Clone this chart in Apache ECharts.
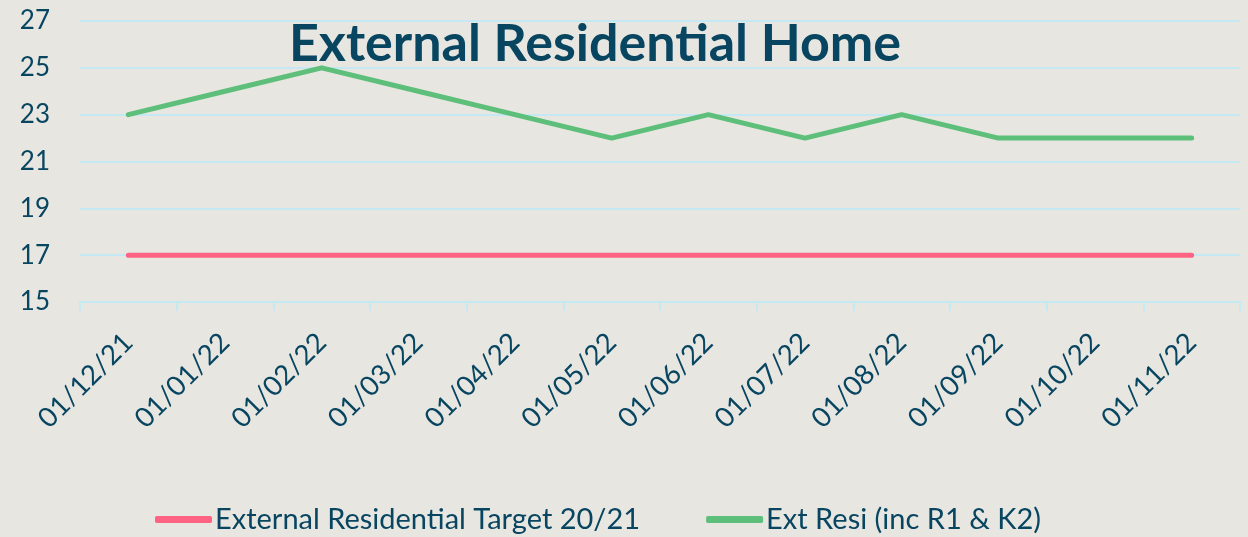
<!DOCTYPE html>
<html>
<head>
<meta charset="utf-8">
<script src="https://cdn.jsdelivr.net/npm/echarts@6/dist/echarts.min.js"></script>
<style>
  html, body { margin: 0; padding: 0; background: #E7E6E1; }
  #main { width: 1248px; height: 537px; }
</style>
</head>
<body>
<div id="main"></div>
<script>
var categories = ['01/12/21','01/01/22','01/02/22','01/03/22','01/04/22','01/05/22',
                  '01/06/22','01/07/22','01/08/22','01/09/22','01/10/22','01/11/22'];
var targetValues = [17,17,17,17,17,17,17,17,17,17,17,17];
var extResiValues = [23,24,25,24,23,22,23,22,23,22,22,22];
var yTicks = [15,17,19,21,23,25,27];

var textColor = '#084560';
var fontFam = 'Lato, "Open Sans", sans-serif';

var chart = echarts.init(document.getElementById('main'));
chart.setOption({
  backgroundColor: '#E7E6E1',
  animation: false,
  title: {
    text: 'External Residential Home',
    left: 590,
    top: 13,
    textAlign: 'center',
    textStyle: { color: textColor, fontSize: 52, fontWeight: 'bold', fontFamily: fontFam }
  },
  legend: {
    bottom: -2,
    left: 150,
    itemWidth: 57,
    itemHeight: 7,
    itemGap: 66,
    icon: 'roundRect',
    textStyle: { color: textColor, fontSize: 29, fontFamily: fontFam, padding: [0, 0, 0, -2] },
    data: ['External Residential Target 20/21', 'Ext Resi (inc R1 & K2)']
  },
  grid: { left: 80, right: 8, top: 21, bottom: 235 },
  xAxis: {
    type: 'category',
    data: categories,
    boundaryGap: true,
    axisLine: { lineStyle: { color: '#C4E8F4', width: 2 } },
    axisTick: { show: true, length: 9, lineStyle: { color: '#C4E8F4', width: 2 } },
    axisLabel: {
      interval: 0, rotate: 45, margin: 36,
      color: textColor, fontSize: 27.5, fontFamily: fontFam
    }
  },
  yAxis: {
    type: 'value',
    min: yTicks[0],
    max: yTicks[yTicks.length - 1],
    interval: 2,
    axisLine: { show: false },
    axisTick: { show: false },
    axisLabel: { color: textColor, fontSize: 26, fontFamily: fontFam, margin: 30 },
    splitLine: { lineStyle: { color: '#C4E8F4', width: 2 } }
  },
  series: [
    {
      name: 'External Residential Target 20/21',
      type: 'line',
      data: targetValues,
      symbol: 'none',
      color: '#FF6384',
      lineStyle: { width: 5, cap: 'round' }
    },
    {
      name: 'Ext Resi (inc R1 & K2)',
      type: 'line',
      data: extResiValues,
      symbol: 'none',
      color: '#5DBF79',
      lineStyle: { width: 5, cap: 'round', join: 'round' }
    }
  ]
});
</script>
</body>
</html>
